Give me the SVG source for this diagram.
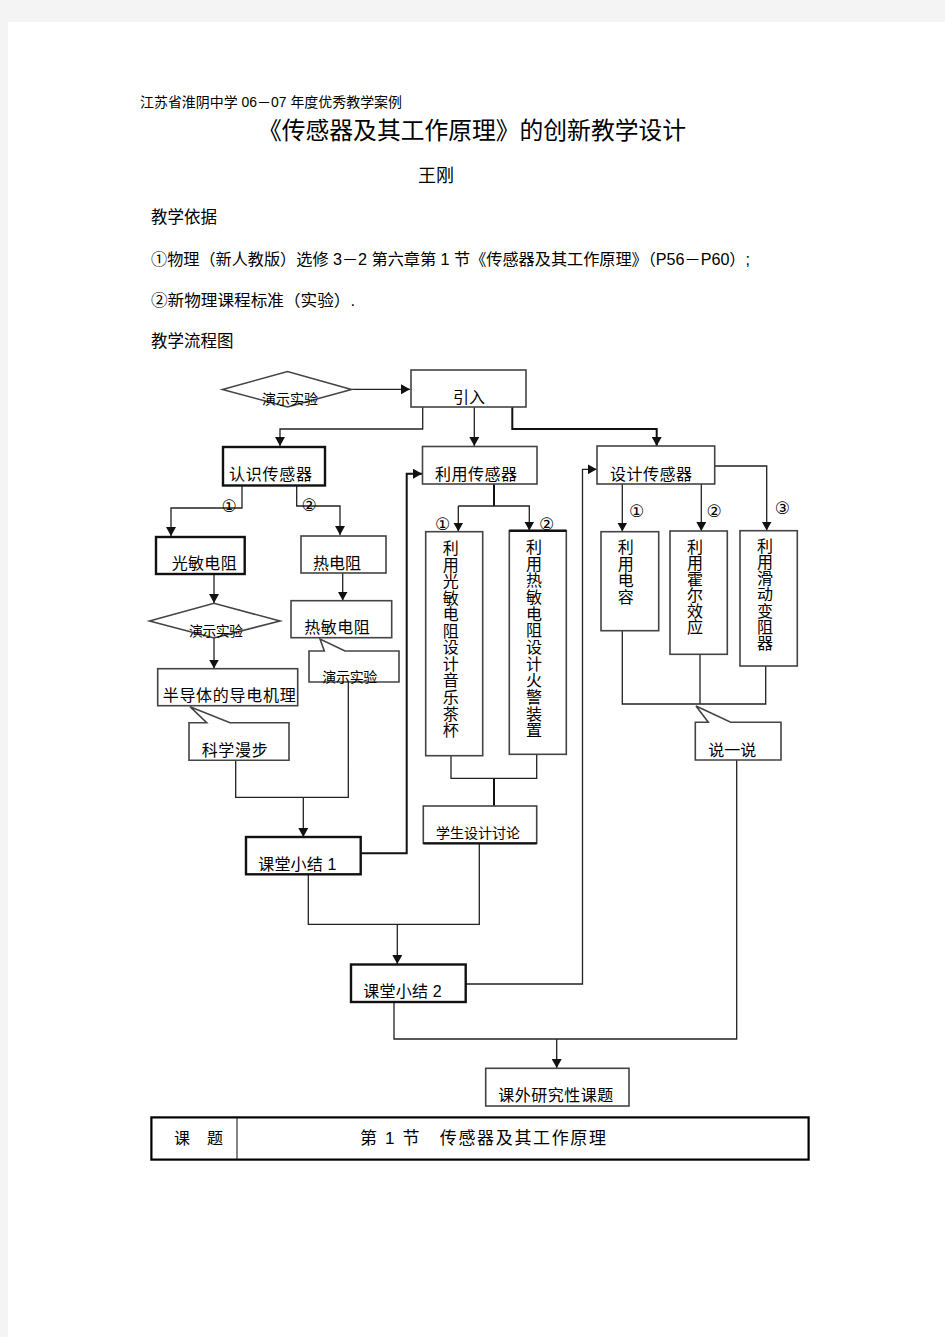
<svg xmlns="http://www.w3.org/2000/svg" width="945" height="1337" viewBox="0 0 945 1337">
<style>
text{font-family:"Liberation Sans","Noto Sans CJK SC",sans-serif;fill:#000}
.t16{font-size:16px}
.t14{font-size:14px}
.box{fill:#fff;stroke:#444;stroke-width:1.6}
.thick{fill:#fff;stroke:#111;stroke-width:2.4}
.co{fill:none;stroke:#222;stroke-width:1.3}
.cb{fill:none;stroke:#111;stroke-width:2}
.num{font-size:17px;font-family:"DejaVu Sans","Noto Sans CJK SC",sans-serif}
</style>
<defs>
<marker id="ah" markerUnits="userSpaceOnUse" markerWidth="9" markerHeight="10" refX="9" refY="5" orient="auto">
<path d="M0,0 L9,5 L0,10 z" fill="#111"/>
</marker>
</defs>
<rect x="0" y="0" width="945" height="1337" fill="#f4f4f4"/>
<rect x="8" y="22" width="937" height="1315" fill="#fff"/>

<g id="header">
<text x="140" y="107" font-size="14" textLength="262" lengthAdjust="spacingAndGlyphs">江苏省淮阴中学 06－07 年度优秀教学案例</text>
<text x="258" y="139" font-size="24" textLength="428" lengthAdjust="spacingAndGlyphs">《传感器及其工作原理》的创新教学设计</text>
<text x="418" y="182" font-size="18">王刚</text>
<text x="151" y="223" font-size="16.5">教学依据</text>
<text x="151" y="265" font-size="16" textLength="599" lengthAdjust="spacingAndGlyphs">①物理（新人教版）选修 3－2 第六章第 1 节《传感器及其工作原理》（P56－P60）;</text>
<text x="151" y="306" font-size="16" textLength="204" lengthAdjust="spacingAndGlyphs">②新物理课程标准（实验）.</text>
<text x="151" y="347" font-size="16.5">教学流程图</text>
</g>

<g id="connectors">
<path class="co" d="M352,389.3 H410" marker-end="url(#ah)"/>
<path class="co" d="M422.7,407 V429 H280 V446" marker-end="url(#ah)"/>
<path class="co" d="M474.3,407 V446" marker-end="url(#ah)"/>
<path class="cb" d="M512.3,407 V429 H656.7 V446" marker-end="url(#ah)"/>
<path class="co" d="M242,486 V508 H171 V536" marker-end="url(#ah)"/>
<path class="co" d="M296.7,486 V506 H340 V535" marker-end="url(#ah)"/>
<path class="co" d="M214,574 V603" marker-end="url(#ah)"/>
<path class="co" d="M342.7,573 V600.5" marker-end="url(#ah)"/>
<path class="co" d="M214,638 V668.5" marker-end="url(#ah)"/>
<path class="co" d="M235.7,760.5 V797.3 H348.3 V682"/>
<path class="co" d="M303.3,797.3 V837" marker-end="url(#ah)"/>
<path class="cb" d="M360.7,853.3 H406.7 V473.7 H422" marker-end="url(#ah)"/>
<path class="cb" d="M494,484 V506"/>
<path class="co" d="M458.3,506 H529.3 V530.5" marker-end="url(#ah)"/>
<path class="co" d="M458.3,506 V531.5" marker-end="url(#ah)"/>
<path class="co" d="M451,756 V778.3 H536.7 V754.3"/>
<path class="cb" d="M494,778.3 V806"/>
<path class="co" d="M479.3,843.5 V924.3 H308.3 V874.5"/>
<path class="co" d="M397.3,924.3 V964" marker-end="url(#ah)"/>
<path class="co" d="M465.7,984 H582.5 V469.3 H596.7" marker-end="url(#ah)"/>
<path class="co" d="M622.3,484 V531.5" marker-end="url(#ah)"/>
<path class="co" d="M701.3,484 V531" marker-end="url(#ah)"/>
<path class="co" d="M714.7,466 H766.7 V530.5" marker-end="url(#ah)"/>
<path class="co" d="M622.3,630.7 V704 H765.7 V666"/>
<path class="co" d="M700,654.3 V704"/>
<path class="co" d="M394,1002 V1039 H736.7 V760"/>
<path class="co" d="M556.7,1039 V1068" marker-end="url(#ah)"/>
</g>

<g id="n-demo1">
<polygon class="box" points="222.5,389.5 287.5,371.5 351.5,389.5 287.5,407"/>
<text x="262" y="404" class="t14">演示实验</text>
</g>
<g id="n-intro">
<rect class="box" x="411" y="370" width="115" height="37"/>
<text x="453" y="403" class="t16">引入</text>
</g>
<g id="n-know">
<rect class="thick" x="223" y="447" width="102" height="38.5"/>
<text x="229" y="480" class="t16" textLength="83">认识传感器</text>
</g>
<g id="n-use">
<rect class="box" x="422.5" y="446.5" width="114.5" height="37.5"/>
<text x="435" y="480" class="t16" textLength="82">利用传感器</text>
</g>
<g id="n-design">
<rect class="box" x="597" y="446" width="117.7" height="38"/>
<text x="610" y="480" class="t16" textLength="82">设计传感器</text>
</g>
<g id="labels-num">
<text x="229" y="512" class="num" text-anchor="middle">①</text>
<text x="309" y="511" class="num" text-anchor="middle">②</text>
<text x="442.7" y="530" class="num" text-anchor="middle">①</text>
<text x="546.7" y="530" class="num" text-anchor="middle">②</text>
<text x="636.7" y="517" class="num" text-anchor="middle">①</text>
<text x="714" y="517" class="num" text-anchor="middle">②</text>
<text x="782.3" y="514" class="num" text-anchor="middle">③</text>
</g>
<g id="n-photo">
<rect class="thick" x="156" y="537" width="88.7" height="37"/>
<text x="171.7" y="569" class="t16" textLength="65">光敏电阻</text>
</g>
<g id="n-thermo">
<rect class="box" x="301" y="536" width="85" height="37"/>
<text x="313" y="569" class="t16">热电阻</text>
</g>
<g id="n-demo2">
<polygon class="box" points="149.5,621 214,603.3 280,621 214,638"/>
<text x="189" y="636" class="t14" textLength="54">演示实验</text>
</g>
<g id="n-thermistor">
<rect class="box" x="291" y="600.7" width="100.7" height="37"/>
<text x="304.3" y="633" class="t16" textLength="65.5">热敏电阻</text>
</g>
<g id="n-demo3">
<path class="box" d="M309,651 H324.3 L320,639 L345,651 H399 V682 H309 Z"/>
<text x="322.3" y="682" class="t14" textLength="55">演示实验</text>
</g>
<g id="n-semi">
<rect class="box" x="157.7" y="668.7" width="140" height="37"/>
<text x="162.7" y="701" class="t16" textLength="133">半导体的导电机理</text>
</g>
<g id="n-sci">
<path class="box" d="M189,722.7 H206.7 L190,706.7 L230,722.7 H289 V760.3 H189 Z"/>
<text x="201.7" y="756" class="t16" textLength="66">科学漫步</text>
</g>
<g id="n-sum1">
<rect class="thick" x="246" y="837" width="114.7" height="37.3"/>
<text x="258.3" y="870" class="t16" textLength="78">课堂小结 1</text>
</g>
<g id="n-use1">
<rect class="box" x="425.7" y="531.7" width="57" height="224"/>
<text x="450.7" y="554" class="t16" text-anchor="middle"><tspan x="450.7">利</tspan><tspan x="450.7" dy="16.55">用</tspan><tspan x="450.7" dy="16.55">光</tspan><tspan x="450.7" dy="16.55">敏</tspan><tspan x="450.7" dy="16.55">电</tspan><tspan x="450.7" dy="16.55">阻</tspan><tspan x="450.7" dy="16.55">设</tspan><tspan x="450.7" dy="16.55">计</tspan><tspan x="450.7" dy="16.55">音</tspan><tspan x="450.7" dy="16.55">乐</tspan><tspan x="450.7" dy="16.55">茶</tspan><tspan x="450.7" dy="16.55">杯</tspan></text>
</g>
<g id="n-use2">
<rect class="box" x="509.3" y="530.7" width="57" height="223.6"/>
<line x1="509.3" y1="530.7" x2="566.3" y2="530.7" stroke="#111" stroke-width="2.4"/>
<text x="534" y="553" class="t16" text-anchor="middle"><tspan x="534">利</tspan><tspan x="534" dy="16.66">用</tspan><tspan x="534" dy="16.66">热</tspan><tspan x="534" dy="16.66">敏</tspan><tspan x="534" dy="16.66">电</tspan><tspan x="534" dy="16.66">阻</tspan><tspan x="534" dy="16.66">设</tspan><tspan x="534" dy="16.66">计</tspan><tspan x="534" dy="16.66">火</tspan><tspan x="534" dy="16.66">警</tspan><tspan x="534" dy="16.66">装</tspan><tspan x="534" dy="16.66">置</tspan></text>
</g>
<g id="n-discuss">
<rect class="box" x="423.3" y="806" width="113.4" height="37.3"/>
<line x1="423.3" y1="843.3" x2="536.7" y2="843.3" stroke="#111" stroke-width="2.2"/>
<text x="436" y="838" class="t14" textLength="84">学生设计讨论</text>
</g>
<g id="n-cap">
<rect class="box" x="601" y="531.7" width="57.7" height="99"/>
<text x="625.7" y="553" class="t16" text-anchor="middle"><tspan x="625.7">利</tspan><tspan x="625.7" dy="16.7">用</tspan><tspan x="625.7" dy="16.7">电</tspan><tspan x="625.7" dy="16.7">容</tspan></text>
</g>
<g id="n-hall">
<rect class="box" x="670" y="531" width="57.3" height="123.3"/>
<text x="695" y="552.5" class="t16" text-anchor="middle"><tspan x="695">利</tspan><tspan x="695" dy="16.1">用</tspan><tspan x="695" dy="16.1">霍</tspan><tspan x="695" dy="16.1">尔</tspan><tspan x="695" dy="16.1">效</tspan><tspan x="695" dy="16.1">应</tspan></text>
</g>
<g id="n-rheo">
<rect class="box" x="740" y="530.7" width="57.3" height="135.3"/>
<text x="765" y="551.5" class="t16" text-anchor="middle"><tspan x="765">利</tspan><tspan x="765" dy="16.3">用</tspan><tspan x="765" dy="16.3">滑</tspan><tspan x="765" dy="16.3">动</tspan><tspan x="765" dy="16.3">变</tspan><tspan x="765" dy="16.3">阻</tspan><tspan x="765" dy="16.3">器</tspan></text>
</g>
<g id="n-say">
<path class="box" d="M695.3,722.3 H708.3 L696,706 L730.7,722.3 H781 V760 H695.3 Z"/>
<text x="708.3" y="756" class="t16">说一说</text>
</g>
<g id="n-sum2">
<rect class="thick" x="351" y="964.5" width="114.7" height="37.5"/>
<text x="363.3" y="997" class="t16" textLength="78.4">课堂小结 2</text>
</g>
<g id="n-research">
<rect class="box" x="485.7" y="1068.3" width="143.3" height="37.7"/>
<text x="498.3" y="1101" class="t16" textLength="115">课外研究性课题</text>
</g>

<g id="table">
<rect x="150.5" y="1116.5" width="659" height="44" fill="#fff" stroke="#999" stroke-width="1"/>
<rect x="151.5" y="1117.5" width="657" height="42" fill="none" stroke="#000" stroke-width="2"/>
<line x1="237" y1="1118" x2="237" y2="1159" stroke="#333" stroke-width="1.2"/>
<text x="174" y="1144" class="t16">课</text>
<text x="207" y="1144" class="t16">题</text>
<text x="360" y="1144" font-size="17" textLength="246" lengthAdjust="spacing">第 1 节　传感器及其工作原理</text>
</g>
</svg>
